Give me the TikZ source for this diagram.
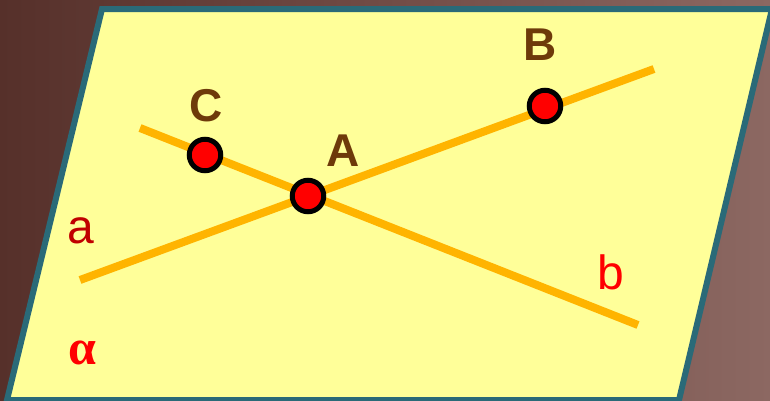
\documentclass[tikz,border=0pt]{standalone}
\usepackage{fontspec}
\setmainfont{Liberation Sans}
\newfontfamily\alphafont{Liberation Serif}
\usepackage{tikz}
\usetikzlibrary{positioning,shadings}
\definecolor{bgleft}{HTML}{56302A}
\definecolor{bgright}{HTML}{8C6862}
\definecolor{planefill}{HTML}{FFFF99}
\definecolor{planeedge}{HTML}{2A6A78}
\definecolor{lineorange}{HTML}{FFB400}
\definecolor{labelbrown}{HTML}{6E3A0A}
\definecolor{darkred}{HTML}{C00000}
\tikzstyle{plane} = [draw=planeedge, line width=6pt, fill=planefill, line join=miter]
\tikzstyle{sline} = [draw=lineorange, line width=8pt]
\tikzstyle{point} = [circle, draw=black, line width=5pt, fill=red,
    minimum size=31.5pt, inner sep=0pt]
\tikzstyle{ptlabel} = [text=labelbrown, inner sep=0pt, font=\fontsize{46}{46}\selectfont\bfseries]
\tikzstyle{linelabel} = [inner sep=0pt, font=\fontsize{48}{48}\selectfont]

\begin{document}
\begin{tikzpicture}[x=1pt,y=-1pt]
\useasboundingbox (0,0) rectangle (770,400);
\shade[left color=bgleft, right color=bgright] (0,0) rectangle (770,400);
% plane alpha
\draw[plane] (102,9) -- (772,9) -- (679,400) -- (7,400) -- cycle;
% the two lines
\coordinate (a1) at (80,280);
\coordinate (a2) at (654,69);
\coordinate (b1) at (140,128);
\coordinate (b2) at (638,325);
\draw[sline] (a1) -- (a2);
\draw[sline] (b1) -- (b2);
% points
\node[point] (A) at (308,196) {};
\node[point] (B) at (545,106) {};
\node[point] (C) at (205,155) {};
\node[ptlabel] (labA) at (343,151) {A};
\node[ptlabel] (labB) at (540,45) {B};
\node[ptlabel] (labC) at (206,106) {C};
\node[linelabel, text=darkred] (laba) at (81,231) {a};
\node[linelabel, text=red] (labb) at (611,272) {b};
\node[text=red, inner sep=0pt, font=\fontsize{50}{50}\alphafont\bfseries] (alpha) at (82,353) {α};
\end{tikzpicture}
\end{document}
